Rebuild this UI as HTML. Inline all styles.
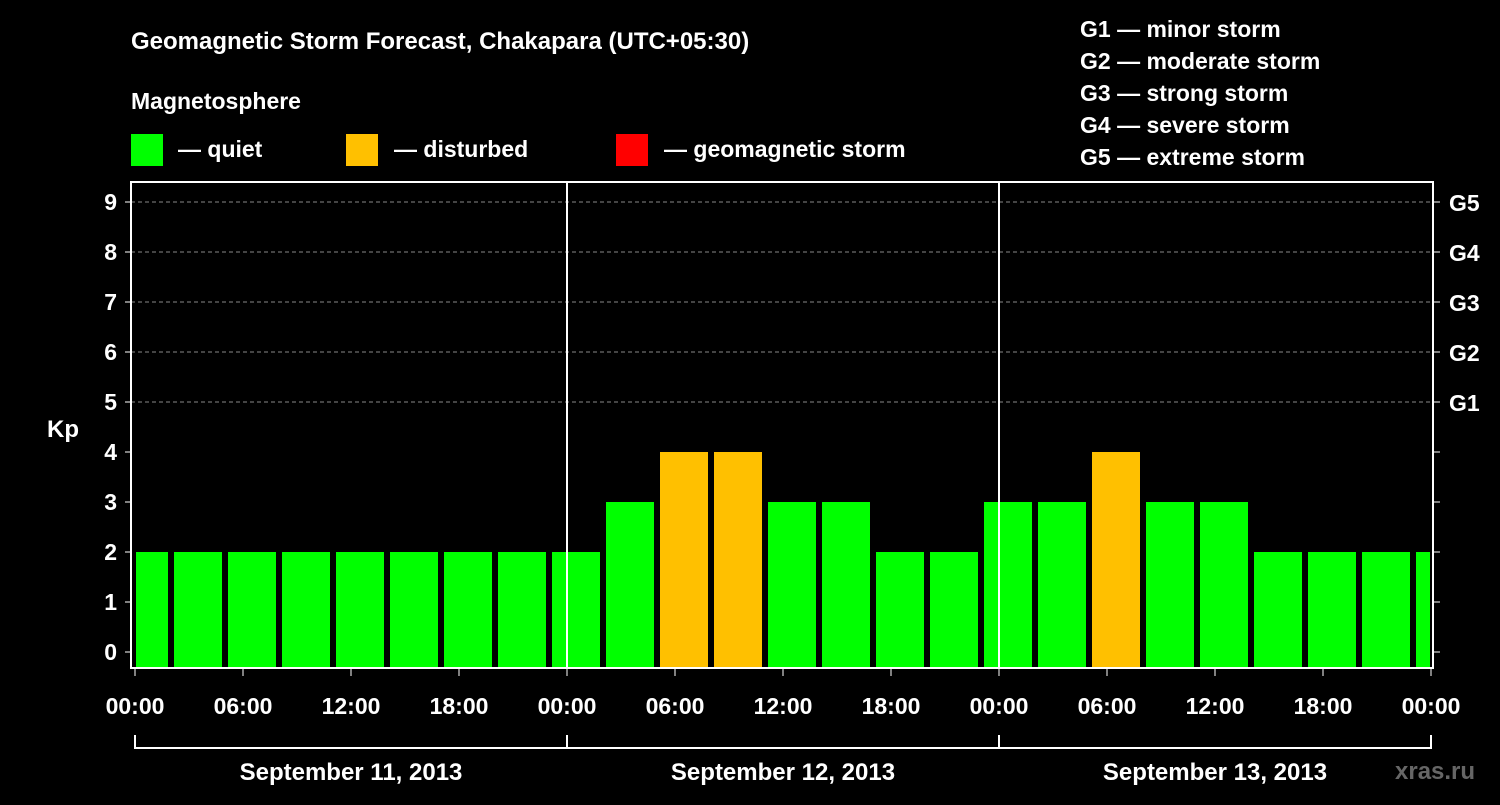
<!DOCTYPE html>
<html><head><meta charset="utf-8"><style>
body{margin:0;background:#000;width:1500px;height:800px;overflow:hidden}
svg text{font-family:"Liberation Sans",Arial,sans-serif;font-weight:bold;fill:#fff}
</style></head><body>
<svg id="chart" width="1500" height="800">
<text x="131" y="49" font-size="24">Geomagnetic Storm Forecast, Chakapara (UTC+05:30)</text>
<text x="131" y="109" font-size="23">Magnetosphere</text>
<rect x="131" y="134" width="32" height="32" fill="#00ff00"/>
<text x="178" y="157" font-size="23">— quiet</text>
<rect x="346" y="134" width="32" height="32" fill="#ffc000"/>
<text x="394" y="157" font-size="23">— disturbed</text>
<rect x="616" y="134" width="32" height="32" fill="#ff0000"/>
<text x="664" y="157" font-size="23">— geomagnetic storm</text>
<g font-size="23">
<text x="1080" y="37">G1 — minor storm</text>
<text x="1080" y="69">G2 — moderate storm</text>
<text x="1080" y="101">G3 — strong storm</text>
<text x="1080" y="133">G4 — severe storm</text>
<text x="1080" y="165">G5 — extreme storm</text>
</g>
<text x="63" y="437" font-size="24" text-anchor="middle">Kp</text>
<text x="1395" y="779" font-size="24" fill="#666" style="fill:#666">xras.ru</text>
<g id="plot"></g>
</svg>
<script>
const kpValues=[2,2,2,2,2,2,2,2,2,3,4,4,3,3,2,2,3,3,4,3,3,2,2,2,2];
const yTicks=[0,1,2,3,4,5,6,7,8,9];
const gLabels=["G1","G2","G3","G4","G5"];
const timeLabels=["00:00","06:00","12:00","18:00","00:00","06:00","12:00","18:00","00:00","06:00","12:00","18:00","00:00"];
const dayLabels=["September 11, 2013","September 12, 2013","September 13, 2013"];
const NS="http://www.w3.org/2000/svg";
const g=document.getElementById('plot');
const X0=135,HPX=18,L=131,R=1433,T=182,B=668;
const xh=h=>X0+h*HPX;
const yv=v=>652-v*50;
function mk(t,a,p){const e=document.createElementNS(NS,t);for(const k in a)e.setAttribute(k,a[k]);(p||g).appendChild(e);return e;}
// grid
yTicks.forEach(v=>{
 if(v>=5){const l=mk('line',{x1:L,x2:R,y1:yv(v),y2:yv(v),stroke:'#888','stroke-dasharray':'4,3','stroke-width':1});
 
 }
 const t=mk('text',{x:117,y:yv(v)+8,'font-size':23,'text-anchor':'end'});t.textContent=v;
 
 
 const tk=mk('line',{x1:L-6,x2:L,y1:yv(v),y2:yv(v),stroke:'#fff'});
 
 
 const tr=mk('line',{x1:R,x2:R+7,y1:yv(v),y2:yv(v),stroke:'#fff'});
 
 
});
gLabels.forEach((s,i)=>{const t=mk('text',{x:1449,y:yv(5+i)+9,'font-size':23});t.textContent=s;
 
 });
// bars
kpValues.forEach((v,i)=>{
 const c=0.5+3*i;let a=xh(c)-24,b=xh(c)+24;
 a=Math.max(a,X0+1);b=Math.min(b,xh(72)-1);
 const col=v>=5?'#ff0000':(v>=4?'#ffc000':'#00ff00');
 const r=mk('rect',{x:a,y:yv(v),width:b-a,height:B-yv(v),fill:col});
 
 
});
// day separators
[1,2].forEach(d=>{const l=mk('line',{x1:xh(24*d),x2:xh(24*d),y1:T,y2:B,stroke:'#fff','stroke-width':2});
 
 });
const fr=mk('rect',{x:L,y:T,width:R-L,height:B-T,fill:'none',stroke:'#fff','stroke-width':2});


timeLabels.forEach((s,i)=>{
 const x=xh(6*i);
 const tk=mk('line',{x1:x,x2:x,y1:B,y2:B+8,stroke:'#fff'});
 
 
 const t=mk('text',{x:x,y:714,'font-size':23,'text-anchor':'middle'});t.textContent=s;
 
 
});
const bl=mk('line',{x1:xh(0),x2:xh(72),y1:748,y2:748,stroke:'#fff','stroke-width':2});


[0,1,2,3].forEach(d=>{const l=mk('line',{x1:xh(24*d),x2:xh(24*d),y1:735,y2:749,stroke:'#fff','stroke-width':2});
 
 });
dayLabels.forEach((s,i)=>{const t=mk('text',{x:xh(24*i+12),y:780,'font-size':24,'text-anchor':'middle'});t.textContent=s;
 
 });
</script>
</body></html>
